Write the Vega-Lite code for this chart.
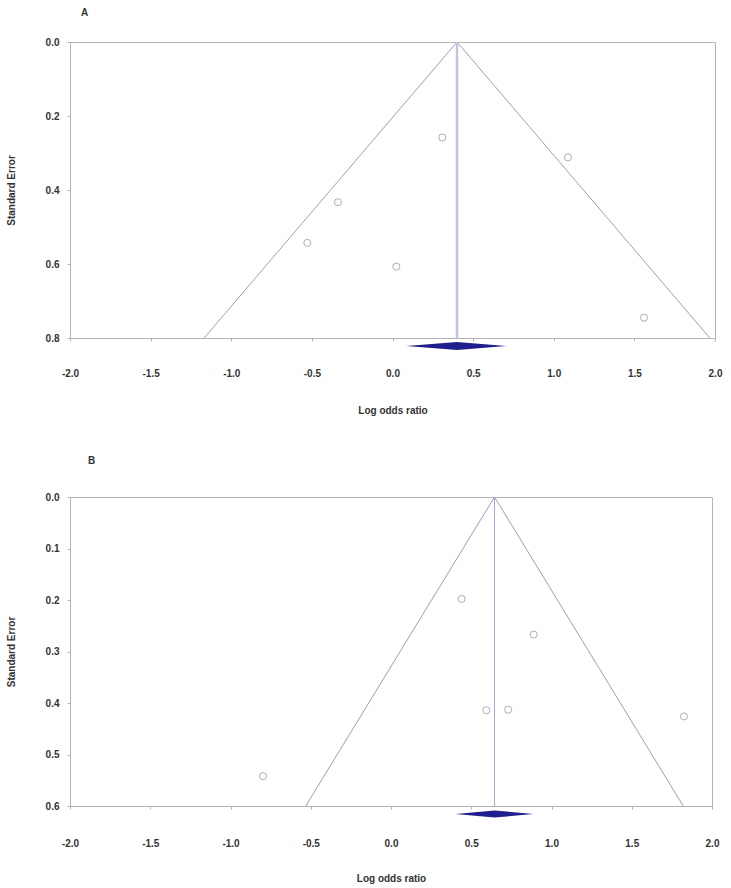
{
  "$schema": "https://vega.github.io/schema/vega-lite/v6.json",
  "background": "white",
  "padding": {"left": 5, "top": 7, "right": 5, "bottom": 2},
  "spacing": 39,
  "config": {
    "font": "Liberation Sans",
    "view": {"stroke": "#b4b4b4", "strokeWidth": 1},
    "axis": {
      "grid": false,
      "domainColor": "#b4b4b4",
      "tickColor": "#b4b4b4",
      "tickSize": 3,
      "labelFlush": false,
      "labelFont": "Liberation Sans",
      "labelFontSize": 10,
      "labelFontWeight": "bold",
      "labelColor": "#333333",
      "titleFont": "Liberation Sans",
      "titleFontSize": 10,
      "titleFontWeight": "bold",
      "titleColor": "#333333"
    },
    "title": {"font": "Liberation Sans", "fontSize": 10, "fontWeight": "bold", "color": "#333333", "anchor": "start", "frame": "group"}
  },
  "datasets": {
    "studiesA": [
      {"lor": 0.309, "se": 0.258},
      {"lor": 1.088, "se": 0.312},
      {"lor": 0.024, "se": 0.607},
      {"lor": 1.560, "se": 0.745},
      {"lor": -0.338, "se": 0.433},
      {"lor": -0.528, "se": 0.543}
    ],
    "funnelA": [
      {"lor": -1.168, "se": 0.8, "o": 1},
      {"lor": 0.4, "se": 0.0, "o": 2},
      {"lor": 1.968, "se": 0.8, "o": 3}
    ],
    "meanA": [{"lor": 0.4, "se0": 0.0, "se1": 0.8}],
    "diamondA": [
      {"lor": 0.086, "top": 0.8215, "bot": 0.8215},
      {"lor": 0.4, "top": 0.8105, "bot": 0.8325},
      {"lor": 0.706, "top": 0.8215, "bot": 0.8215}
    ],
    "studiesB": [
      {"lor": 0.440, "se": 0.198},
      {"lor": 0.889, "se": 0.267},
      {"lor": 0.594, "se": 0.414},
      {"lor": 0.730, "se": 0.413},
      {"lor": 1.825, "se": 0.426},
      {"lor": -0.797, "se": 0.542}
    ],
    "funnelB": [
      {"lor": -0.531, "se": 0.6, "o": 1},
      {"lor": 0.645, "se": 0.0, "o": 2},
      {"lor": 1.821, "se": 0.6, "o": 3}
    ],
    "meanB": [{"lor": 0.645, "se0": 0.0, "se1": 0.6}],
    "diamondB": [
      {"lor": 0.402, "top": 0.6155, "bot": 0.6155},
      {"lor": 0.645, "top": 0.6085, "bot": 0.6225},
      {"lor": 0.887, "top": 0.6155, "bot": 0.6155}
    ]
  },
  "vconcat": [
    {
      "title": {"text": "A", "dx": 11, "offset": 19},
      "width": 645,
      "height": 296,
      "layer": [
        {
          "data": {"name": "funnelA"},
          "mark": {"type": "line", "color": "#9c9cc8", "strokeWidth": 1, "clip": false},
          "encoding": {
            "x": {"field": "lor", "type": "quantitative", "scale": {"domain": [-2, 2], "nice": false, "zero": false},
              "axis": {"values": [-2, -1.5, -1, -0.5, 0, 0.5, 1, 1.5, 2], "format": ".1f", "labelExpr": "replace(datum.label, '\u2212', '-')", "labelPadding": 27, "title": "Log odds ratio", "titlePadding": 27}},
            "y": {"field": "se", "type": "quantitative", "scale": {"domain": [0, 0.8], "reverse": true, "nice": false, "zero": false},
              "axis": {"values": [0, 0.2, 0.4, 0.6, 0.8], "format": ".1f", "labelPadding": 8, "title": "Standard Error", "titlePadding": 29}},
            "order": {"field": "o", "type": "quantitative"}
          }
        },
        {
          "data": {"name": "meanA"},
          "mark": {"type": "rule", "color": "#c4c4e2", "strokeWidth": 2.5},
          "encoding": {
            "x": {"field": "lor", "type": "quantitative"},
            "y": {"field": "se0", "type": "quantitative"},
            "y2": {"field": "se1"}
          }
        },
        {
          "data": {"name": "studiesA"},
          "mark": {"type": "point", "shape": "circle", "filled": false, "size": 50, "color": "#8a8a9a", "strokeWidth": 1},
          "encoding": {
            "x": {"field": "lor", "type": "quantitative"},
            "y": {"field": "se", "type": "quantitative"}
          }
        },
        {
          "data": {"name": "diamondA"},
          "mark": {"type": "area", "color": "#1e1e8c", "opacity": 1, "clip": false},
          "encoding": {
            "x": {"field": "lor", "type": "quantitative"},
            "y": {"field": "top", "type": "quantitative"},
            "y2": {"field": "bot"}
          }
        }
      ]
    },
    {
      "title": {"text": "B", "dx": 18, "offset": 26},
      "width": 642,
      "height": 309,
      "layer": [
        {
          "data": {"name": "funnelB"},
          "mark": {"type": "line", "color": "#9c9cc8", "strokeWidth": 1, "clip": false},
          "encoding": {
            "x": {"field": "lor", "type": "quantitative", "scale": {"domain": [-2, 2], "nice": false, "zero": false},
              "axis": {"values": [-2, -1.5, -1, -0.5, 0, 0.5, 1, 1.5, 2], "format": ".1f", "labelExpr": "replace(datum.label, '\u2212', '-')", "labelPadding": 29, "title": "Log odds ratio", "titlePadding": 25}},
            "y": {"field": "se", "type": "quantitative", "scale": {"domain": [0, 0.6], "reverse": true, "nice": false, "zero": false},
              "axis": {"values": [0, 0.1, 0.2, 0.3, 0.4, 0.5, 0.6], "format": ".1f", "labelPadding": 8, "title": "Standard Error", "titlePadding": 29}},
            "order": {"field": "o", "type": "quantitative"}
          }
        },
        {
          "data": {"name": "meanB"},
          "mark": {"type": "rule", "color": "#a8a8d4", "strokeWidth": 1},
          "encoding": {
            "x": {"field": "lor", "type": "quantitative"},
            "y": {"field": "se0", "type": "quantitative"},
            "y2": {"field": "se1"}
          }
        },
        {
          "data": {"name": "studiesB"},
          "mark": {"type": "point", "shape": "circle", "filled": false, "size": 50, "color": "#8a8a9a", "strokeWidth": 1},
          "encoding": {
            "x": {"field": "lor", "type": "quantitative"},
            "y": {"field": "se", "type": "quantitative"}
          }
        },
        {
          "data": {"name": "diamondB"},
          "mark": {"type": "area", "color": "#1e1e8c", "opacity": 1, "clip": false},
          "encoding": {
            "x": {"field": "lor", "type": "quantitative"},
            "y": {"field": "top", "type": "quantitative"},
            "y2": {"field": "bot"}
          }
        }
      ]
    }
  ]
}
